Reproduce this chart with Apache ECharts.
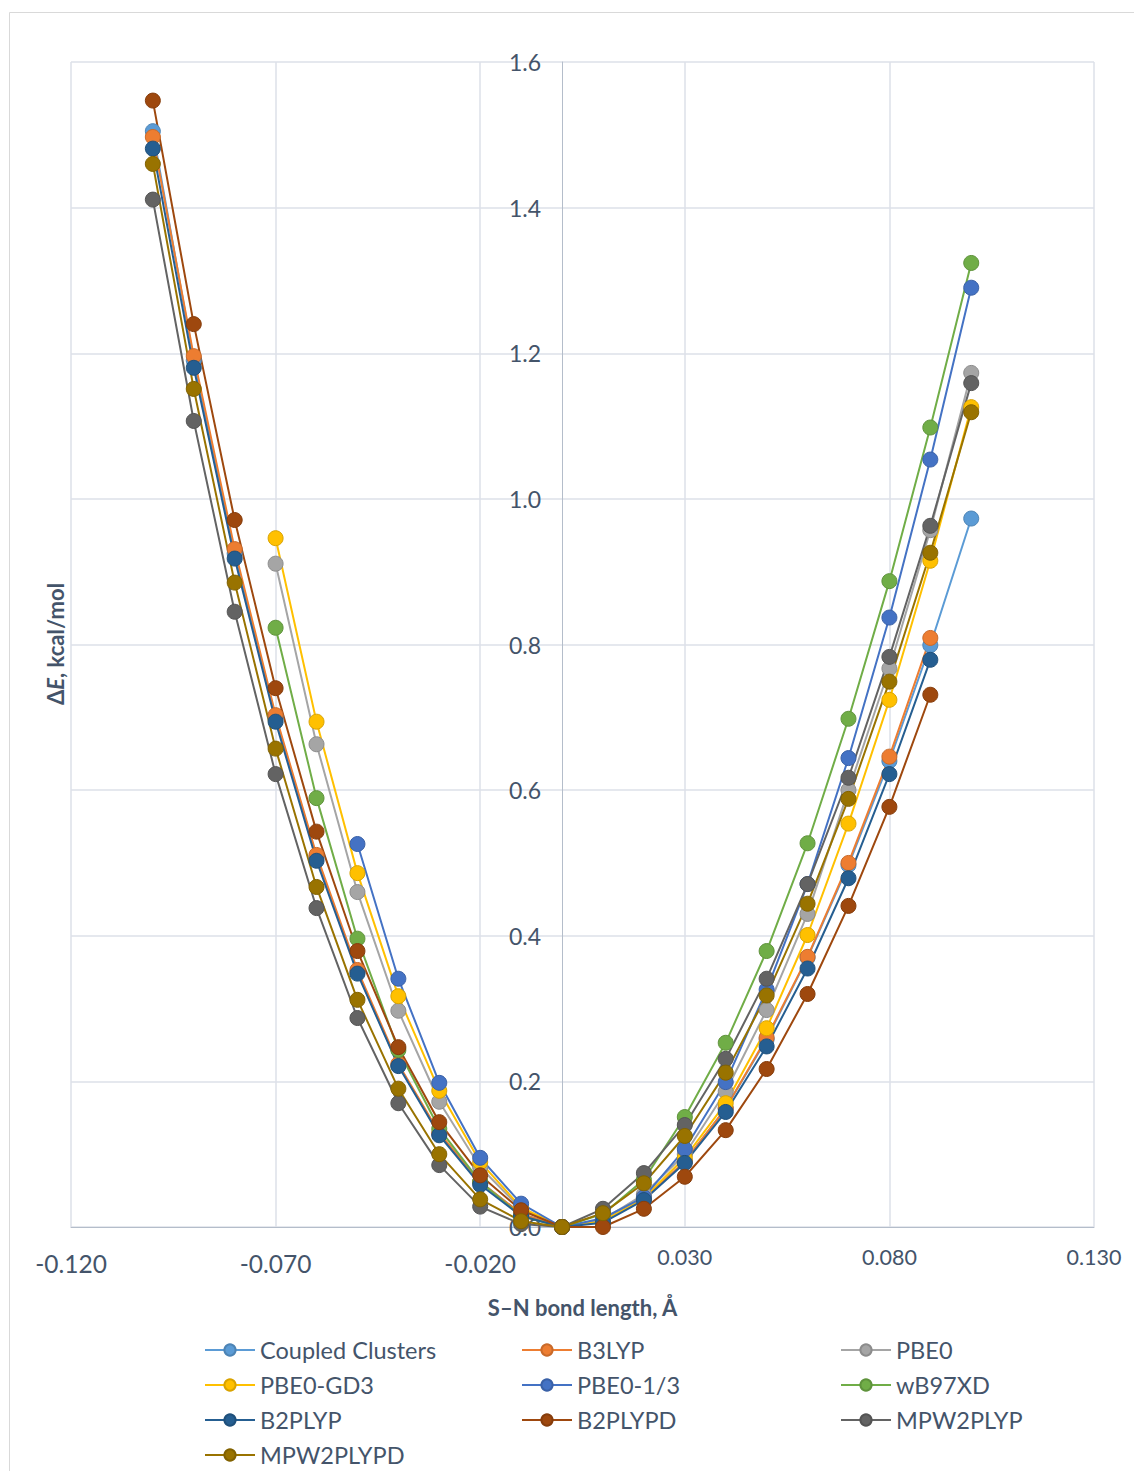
<!DOCTYPE html>
<html>
<head>
<meta charset="utf-8">
<title>S–N bond length scan</title>
<script src="https://cdn.jsdelivr.net/npm/echarts@6/dist/echarts.min.js"></script>
<style>
  html, body { margin: 0; padding: 0; background: #ffffff; }
  #chart { width: 1134px; height: 1471px; }
</style>
</head>
<body>
<div id="chart"></div>
<script>
// Displacement of the S–N bond from equilibrium, Å
const xValues = [-0.10, -0.09, -0.08, -0.07, -0.06, -0.05, -0.04, -0.03, -0.02, -0.01,
                 0.00, 0.01, 0.02, 0.03, 0.04, 0.05, 0.06, 0.07, 0.08, 0.09, 0.10];

// Relative energies ΔE (kcal/mol) per method; null = point not computed
const coupledClusters = [1.505, 1.190, 0.925, 0.700, 0.508, 0.350, 0.222, 0.128, 0.062, 0.018, 0, 0.008, 0.038, 0.090, 0.163, 0.258, 0.370, 0.497, 0.640, 0.799, 0.973];
const b3lyp           = [1.497, 1.196, 0.931, 0.703, 0.511, 0.353, 0.224, 0.129, 0.062, 0.018, 0, 0.008, 0.038, 0.090, 0.163, 0.260, 0.371, 0.500, 0.646, 0.809, null];
const pbe0            = [null, null, null, 0.911, 0.663, 0.460, 0.297, 0.172, 0.082, 0.025, 0, 0.010, 0.045, 0.100, 0.186, 0.298, 0.430, 0.600, 0.767, 0.957, 1.173];
const pbe0gd3         = [null, null, null, 0.946, 0.694, 0.486, 0.317, 0.187, 0.089, 0.027, 0, 0.008, 0.040, 0.095, 0.170, 0.273, 0.401, 0.554, 0.724, 0.915, 1.126];
const pbe013          = [null, null, null, null, null, 0.526, 0.341, 0.198, 0.095, 0.032, 0, 0.012, 0.041, 0.107, 0.199, 0.326, 0.471, 0.644, 0.837, 1.054, 1.290];
const wb97xd          = [null, null, null, 0.823, 0.589, 0.396, 0.243, 0.135, 0.062, 0.015, 0, 0.018, 0.065, 0.151, 0.253, 0.379, 0.527, 0.698, 0.887, 1.098, 1.324];
const b2plyp          = [1.481, 1.180, 0.918, 0.694, 0.503, 0.348, 0.221, 0.126, 0.058, 0.015, 0, 0.006, 0.037, 0.088, 0.158, 0.248, 0.355, 0.479, 0.622, 0.779, null];
const b2plypd         = [1.547, 1.240, 0.971, 0.740, 0.543, 0.379, 0.247, 0.144, 0.071, 0.023, 0, 0.000, 0.025, 0.069, 0.133, 0.217, 0.320, 0.441, 0.577, 0.731, null];
const mpw2plyp        = [1.411, 1.107, 0.845, 0.622, 0.438, 0.287, 0.170, 0.085, 0.028, 0.004, 0, 0.025, 0.074, 0.140, 0.231, 0.341, 0.471, 0.617, 0.783, 0.963, 1.159];
const mpw2plypd       = [1.460, 1.151, 0.885, 0.657, 0.467, 0.312, 0.190, 0.100, 0.038, 0.008, 0, 0.019, 0.060, 0.125, 0.212, 0.318, 0.444, 0.588, 0.749, 0.926, 1.119];

const methodNames = ['Coupled Clusters', 'B3LYP', 'PBE0', 'PBE0-GD3', 'PBE0-1/3', 'wB97XD',
                     'B2PLYP', 'B2PLYPD', 'MPW2PLYP', 'MPW2PLYPD'];
const methodValues = [coupledClusters, b3lyp, pbe0, pbe0gd3, pbe013, wb97xd,
                      b2plyp, b2plypd, mpw2plyp, mpw2plypd];
const methodColors = ['#5B9BD5', '#ED7D31', '#A5A5A5', '#FFC000', '#4472C4', '#70AD47',
                      '#255E91', '#9E480E', '#636363', '#997300'];

const TEXT = '#44546A';
const FONT = 'Lato, "Open Sans", sans-serif';

function darker(hex, f) {
  const n = parseInt(hex.slice(1), 16);
  const r = Math.round(((n >> 16) & 255) * f);
  const g = Math.round(((n >> 8) & 255) * f);
  const b = Math.round((n & 255) * f);
  return 'rgb(' + r + ',' + g + ',' + b + ')';
}

const series = methodNames.map(function (name, i) {
  const pts = [];
  xValues.forEach(function (x, k) {
    if (methodValues[i][k] !== null) pts.push([x, methodValues[i][k]]);
  });
  return {
    name: name,
    type: 'line',
    data: pts,
    symbol: 'circle',
    symbolSize: 15,
    lineStyle: { color: methodColors[i], width: 2 },
    itemStyle: { color: methodColors[i], borderColor: darker(methodColors[i], 0.85), borderWidth: 1 },
    emphasis: { disabled: true }
  };
});

const legendStyle = {
  orient: 'vertical',
  top: 1338,
  height: 200,
  padding: 0,
  itemWidth: 50,
  itemHeight: 14,
  itemGap: 11,
  textStyle: { color: TEXT, fontFamily: FONT, fontSize: 23.5, lineHeight: 22 },
  selectedMode: false
};

const chart = echarts.init(document.getElementById('chart'), null, { renderer: 'svg' });
chart.setOption({
  animation: false,
  backgroundColor: '#ffffff',
  textStyle: { fontFamily: FONT },
  grid: { left: 71, right: 40, top: 62, bottom: 244, containLabel: false },
  xAxis: {
    type: 'value',
    min: -0.12,
    max: 0.13,
    interval: 0.05,
    name: 'S–N bond length, Å',
    nameLocation: 'middle',
    nameGap: 69,
    nameTextStyle: { color: TEXT, fontFamily: FONT, fontSize: 22, fontWeight: 'bold' },
    axisLine: { show: true, lineStyle: { color: '#B4BDCA', width: 1 } },
    axisTick: { show: false },
    splitLine: { show: true, lineStyle: { color: '#DCE1E8', width: 1.5 } },
    axisLabel: {
      margin: 19,
      formatter: function (v) {
        const s = v.toFixed(3);
        return v < 0 ? '{n|' + s + '}' : '{p|' + s + '}';
      },
      rich: {
        n: { color: TEXT, fontFamily: FONT, fontSize: 24.5, padding: [5, 0, 0, 0] },
        p: { color: TEXT, fontFamily: FONT, fontSize: 21.5 }
      }
    }
  },
  yAxis: {
    type: 'value',
    min: 0,
    max: 1.6,
    interval: 0.2,
    // vertical axis drawn through x = 0 (491 px inside the plot's left edge)
    offset: -491,
    axisLine: { show: true, onZero: false, lineStyle: { color: '#B4BDCA', width: 1 } },
    axisTick: { show: false },
    splitLine: { show: true, lineStyle: { color: '#DCE1E8', width: 1.5 } },
    axisLabel: {
      margin: 21,
      color: TEXT,
      fontFamily: FONT,
      fontSize: 23,
      formatter: function (v) { return v.toFixed(1); }
    }
  },
  legend: [
    Object.assign({}, legendStyle, { left: 204, data: ['Coupled Clusters', 'PBE0-GD3', 'B2PLYP', 'MPW2PLYPD'] }),
    Object.assign({}, legendStyle, { left: 521, data: ['B3LYP', 'PBE0-1/3', 'B2PLYPD'] }),
    Object.assign({}, legendStyle, { left: 840, data: ['PBE0', 'wB97XD', 'MPW2PLYP'] })
  ],
  graphic: [
    {
      type: 'rect',
      silent: true,
      shape: { x: 9.5, y: 12.5, width: 1200, height: 1500 },
      style: { fill: 'none', stroke: '#D9D9D9', lineWidth: 1 }
    },
    {
      type: 'text',
      silent: true,
      x: 55,
      y: 644,
      rotation: Math.PI / 2,
      style: {
        text: '{a|Δ}{b|E}{a|, kcal/mol}',
        align: 'center',
        verticalAlign: 'middle',
        rich: {
          a: { fill: TEXT, fontFamily: FONT, fontSize: 22, fontWeight: 'bold' },
          b: { fill: TEXT, fontFamily: FONT, fontSize: 22, fontWeight: 'bold', fontStyle: 'italic' }
        }
      }
    }
  ],
  series: series
});
</script>
</body>
</html>
